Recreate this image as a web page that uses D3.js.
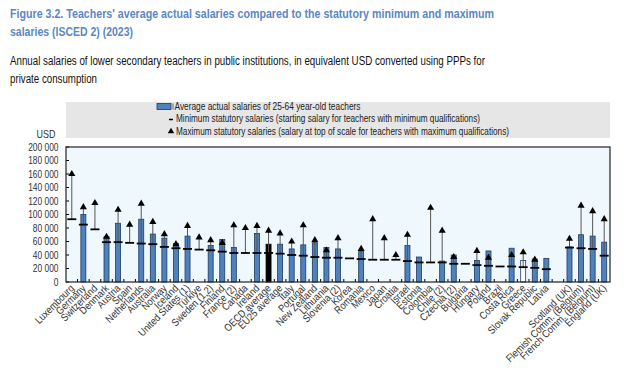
<!DOCTYPE html>
<html>
<head>
<meta charset="utf-8">
<script src="https://cdn.jsdelivr.net/npm/d3@7"></script>
<style>
  body { margin: 0; background: #fff; }
  svg text { font-family: "Liberation Sans Narrow", "Arial Narrow", "Liberation Sans", Arial, sans-serif; }
</style>
</head>
<body>
<div id="chart"></div>
<script>
// categories, in chart order ("" marks the gap before the sub-national entities)
var countries = ["Luxembourg", "Germany", "Switzerland", "Denmark", "Austria", "Spain", "Netherlands",
    "Australia", "Norway", "Iceland", "United States (1)", "Türkiye", "Sweden (1,2)", "Finland",
    "France (2)", "Canada", "Ireland", "OECD average", "EU25 average", "Italy", "Portugal",
    "New Zealand", "Lithuania", "Slovenia (2)", "Korea", "Romania", "Mexico", "Japan", "Croatia",
    "Israel", "Estonia", "Colombia", "Chile (2)", "Czechia (2)", "Bulgaria", "Hungary", "Poland",
    "Brazil", "Costa Rica", "Greece", "Slovak Republic", "Latvia", "",
    "Scotland (UK)", "Flemish Comm. (Belgium)", "French Comm. (Belgium)", "England (UK)"];

// average actual salaries of 25-64 year-old teachers (USD)
var actual = [null, 100000, null, 67000, 87000, null, 93000,
    71000, 65000, 57000, 68000, null, 54000, 63000,
    51000, null, 72000, 56000, 56000, 49000, 55000,
    58000, 51000, 49000, null, 45000, null, null, null,
    54000, 37000, null, 31000, 40000, null, 32000, 46000,
    null, 50000, 32000, 34000, 35000, null,
    52000, 70000, 68000, 59000];

// minimum statutory salaries
var minimum = [93000, 85000, 78000, 59000, 59000, 58000, 57000,
    56000, 52000, 50000, 49000, 48000, 47000, 45000,
    43000, 43000, 43000, 43000, 42000, 40000, 39000,
    37000, 36000, 36000, 35000, 34000, 33000, 33000, 33000,
    31000, 29000, 29000, 29000, 27000, 27000, 25000, 24000,
    23000, 23000, 22000, 21000, 19000, null,
    51000, 50000, 49000, 39000];

// maximum statutory salaries
var maximum = [160000, 111000, 117000, 67000, 107000, 85000, 116000,
    89000, 71000, 56000, 83000, 66000, 62000, 58000,
    84000, 80000, 83000, 76000, 72000, 60000, 84000,
    62000, 47000, 65000, null, 49000, 93000, 65000, 40000,
    70000, null, 110000, 76000, 37000, null, 46000, 36000,
    null, 40000, 44000, 33000, null, null,
    64000, 113000, 105000, 93000];

var yTicks = [0, 20000, 40000, 60000, 80000, 100000, 120000, 140000, 160000, 180000, 200000];

var width = 643, height = 372;
var margin = {left: 66, right: 33, top: 147, bottom: 90};

var svg = d3.select("#chart").append("svg")
    .attr("width", width)
    .attr("height", height);

// squeeze a text to look like a narrow font
function narrow(sel, k) {
    sel.each(function() {
        var w = this.getComputedTextLength();
        d3.select(this).attr("textLength", w * k).attr("lengthAdjust", "spacingAndGlyphs");
    });
}
function fitTo(sel, w) {
    sel.attr("textLength", w).attr("lengthAdjust", "spacingAndGlyphs");
}

var rows = countries.map(function(c, i) {
    return {key: i, name: c, actual: actual[i], min: minimum[i], max: maximum[i]};
});

var x = d3.scaleBand()
    .domain(rows.map(function(d) { return d.key; }))
    .range([margin.left, width - margin.right])
    .paddingInner(0).paddingOuter(0);

var y = d3.scaleLinear()
    .domain([0, 200000])
    .range([height - margin.bottom, margin.top]);

var bw = 5;

// Titles
var titleColor = "#5a88c4";
svg.append("text").attr("x", 10).attr("y", 18)
    .attr("font-size", 13.5).attr("font-weight", "bold").attr("fill", titleColor)
    .text("Figure 3.2. Teachers' average actual salaries compared to the statutory minimum and maximum")
    .call(fitTo, 484);
svg.append("text").attr("x", 10).attr("y", 36)
    .attr("font-size", 13.5).attr("font-weight", "bold").attr("fill", titleColor)
    .text("salaries (ISCED 2) (2023)")
    .call(fitTo, 123);
svg.append("text").attr("x", 10).attr("y", 65)
    .attr("font-size", 12.5).attr("fill", "#111")
    .text("Annual salaries of lower secondary teachers in public institutions, in equivalent USD converted using PPPs for")
    .call(fitTo, 475);
svg.append("text").attr("x", 10).attr("y", 83)
    .attr("font-size", 12.5).attr("fill", "#111")
    .text("private consumption")
    .call(fitTo, 87);

// Legend
var legend = svg.append("g");
legend.append("rect")
    .attr("x", margin.left).attr("y", 102)
    .attr("width", width - margin.right - margin.left).attr("height", 36)
    .attr("fill", "#e6e6e6");
legend.append("rect").attr("x", 157).attr("y", 103.5).attr("width", 14).attr("height", 6)
    .attr("fill", "#4f81bd").attr("stroke", "#1f3a60").attr("stroke-width", 0.8);
legend.append("line").attr("x1", 173).attr("x2", 173).attr("y1", 103.5).attr("y2", 109.5)
    .attr("stroke", "#444").attr("stroke-width", 0.8);
legend.append("line").attr("x1", 169).attr("x2", 173).attr("y1", 119.5).attr("y2", 119.5)
    .attr("stroke", "#000").attr("stroke-width", 1.5);
legend.append("path").attr("d", d3.symbol(d3.symbolTriangle, 18)())
    .attr("transform", "translate(171,131.5)").attr("fill", "#000");
var legendText = ["Average actual salaries of 25-64 year-old teachers",
    "Minimum statutory salaries (starting salary for teachers with minimum qualifications)",
    "Maximum statutory salaries (salary at top of scale for teachers with maximum qualifications)"];
var legendWidth = [186, 304, 333];
legend.selectAll("text.leg").data(legendText).enter().append("text")
    .attr("class", "leg")
    .attr("x", function(d, i) { return i == 0 ? 174.5 : 176; })
    .attr("y", function(d, i) { return 110 + i * 12.3; })
    .attr("font-size", 10).attr("fill", "#222")
    .attr("textLength", function(d, i) { return legendWidth[i]; })
    .attr("lengthAdjust", "spacingAndGlyphs")
    .text(function(d) { return d; });

// Plot background
svg.append("rect")
    .attr("x", margin.left).attr("y", margin.top)
    .attr("width", width - margin.right - margin.left)
    .attr("height", height - margin.bottom - margin.top)
    .attr("fill", "#eff8fc");

// USD label
svg.append("text").attr("x", 46).attr("y", 138)
    .attr("font-size", 10.5).attr("fill", "#333").attr("text-anchor", "middle")
    .text("USD")
    .call(narrow, 0.85);

// Y axis labels and inner ticks
var yAxis = svg.append("g");
yAxis.selectAll("text").data(yTicks).enter().append("text")
    .attr("x", 58.5).attr("y", function(d) { return y(d) + 3.7; })
    .attr("text-anchor", "end").attr("font-size", 10.5).attr("fill", "#333")
    .text(function(d) { return d3.format(",")(d).replace(/,/g, " "); })
    .call(narrow, 0.8);
yAxis.selectAll("line").data(yTicks).enter().append("line")
    .attr("x1", margin.left).attr("x2", margin.left + 3)
    .attr("y1", function(d) { return y(d); }).attr("y2", function(d) { return y(d); })
    .attr("stroke", "#000").attr("stroke-width", 1);

// X ticks at category boundaries
var bounds = rows.map(function(d) { return x(d.key); }).slice(1);
svg.append("g").selectAll("line").data(bounds).enter().append("line")
    .attr("x1", function(d) { return d; }).attr("x2", function(d) { return d; })
    .attr("y1", y(0)).attr("y2", y(0) - 3)
    .attr("stroke", "#000").attr("stroke-width", 1);

var cx = function(d) { return x(d.key) + x.bandwidth() / 2; };

// Bars
svg.append("g").selectAll("rect")
    .data(rows.filter(function(d) { return d.actual != null; }))
    .enter().append("rect")
    .attr("x", function(d) { return cx(d) - bw / 2; })
    .attr("y", function(d) { return y(d.actual); })
    .attr("width", bw)
    .attr("height", function(d) { return y(0) - y(d.actual); })
    .attr("fill", function(d) {
        if (d.name == "OECD average") return "#000";
        if (d.name == "Greece") return "#fff";
        return "#4f81bd";
    })
    .attr("stroke", function(d) { return d.name == "OECD average" ? "#000" : "#1f3a60"; })
    .attr("stroke-width", 0.8);

// Min-max connector lines
svg.append("g").selectAll("line")
    .data(rows.filter(function(d) { return d.min != null && d.max != null; }))
    .enter().append("line")
    .attr("x1", cx).attr("x2", cx)
    .attr("y1", function(d) { return y(d.min); })
    .attr("y2", function(d) { return y(d.max); })
    .attr("stroke", "#555").attr("stroke-width", 1);

// Minimum dashes
svg.append("g").selectAll("line")
    .data(rows.filter(function(d) { return d.min != null; }))
    .enter().append("line")
    .attr("x1", function(d) { return cx(d) - 4.5; })
    .attr("x2", function(d) { return cx(d) + 4.5; })
    .attr("y1", function(d) { return y(d.min); })
    .attr("y2", function(d) { return y(d.min); })
    .attr("stroke", "#000").attr("stroke-width", 1.8);

// Maximum triangles
svg.append("g").selectAll("path")
    .data(rows.filter(function(d) { return d.max != null; }))
    .enter().append("path")
    .attr("d", d3.symbol(d3.symbolTriangle, 22)())
    .attr("transform", function(d) { return "translate(" + cx(d) + "," + y(d.max) + ")"; })
    .attr("fill", "#000");

// Plot frame
svg.append("rect")
    .attr("x", margin.left).attr("y", margin.top)
    .attr("width", width - margin.right - margin.left)
    .attr("height", height - margin.bottom - margin.top)
    .attr("fill", "none").attr("stroke", "#222").attr("stroke-width", 1.2);

// X labels
svg.append("g").selectAll("text")
    .data(rows.filter(function(d) { return d.name != ""; }))
    .enter().append("text")
    .attr("transform", function(d) { return "translate(" + (cx(d) + 3) + "," + (y(0) + 7) + ") rotate(-45)"; })
    .attr("text-anchor", "end")
    .attr("font-size", 10.5).attr("fill", "#333")
    .text(function(d) { return d.name; })
    .call(narrow, 0.86);
</script>
</body>
</html>
